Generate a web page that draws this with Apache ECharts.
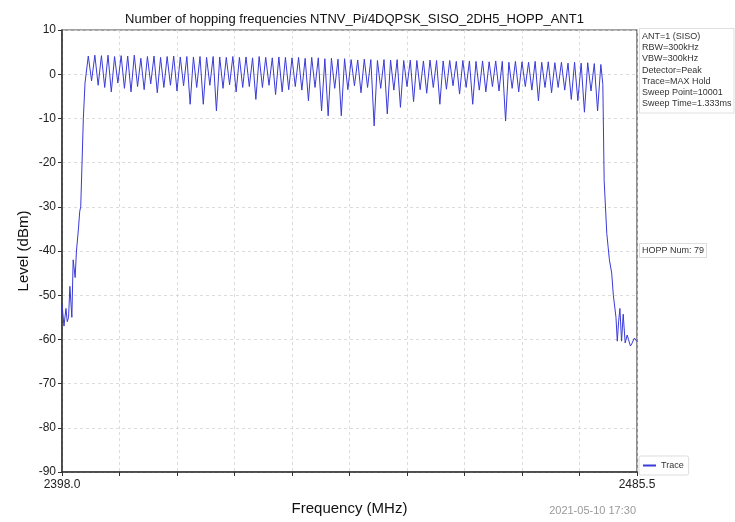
<!DOCTYPE html>
<html>
<head>
<meta charset="utf-8">
<script src="https://cdn.jsdelivr.net/npm/echarts@6/dist/echarts.min.js"></script>
<style>
html,body{margin:0;padding:0;background:#fff;}
#chart{width:735px;height:522px;}
</style>
</head>
<body>
<div id="chart"></div>
<script>
// ---- data ----
const titleText = 'Number of hopping frequencies NTNV_Pi/4DQPSK_SISO_2DH5_HOPP_ANT1';
const xTickLabels = ['2398.0', '2485.5'];
const yTicks = [10, 0, -10, -20, -30, -40, -50, -60, -70, -80, -90];

// Bluetooth hopping channels (MHz)
const channelFreq = [2402,2403,2404,2405,2406,2407,2408,2409,2410,2411,2412,2413,2414,2415,2416,2417,2418,2419,2420,2421,
  2422,2423,2424,2425,2426,2427,2428,2429,2430,2431,2432,2433,2434,2435,2436,2437,2438,2439,2440,2441,
  2442,2443,2444,2445,2446,2447,2448,2449,2450,2451,2452,2453,2454,2455,2456,2457,2458,2459,2460,2461,
  2462,2463,2464,2465,2466,2467,2468,2469,2470,2471,2472,2473,2474,2475,2476,2477,2478,2479,2480];
// peak level of each channel (dBm)
const peakLevel = [4.1,4.3,4.2,4.3,4.0,4.2,4.1,4.3,3.6,4.0,
  4.1,3.8,4.0,4.1,3.9,4.0,3.9,4.0,3.8,4.0,
  3.9,3.8,4.0,3.8,3.9,3.7,4.0,3.8,3.7,3.9,
  3.8,3.7,3.8,3.6,3.8,3.7,3.5,3.6,3.4,3.5,
  3.3,3.2,3.4,3.3,3.1,3.3,3.2,3.3,3.1,3.2,
  3.1,3.0,3.2,3.1,3.0,3.1,2.9,3.1,3.0,2.9,
  3.0,2.8,3.0,2.9,2.7,2.9,2.8,2.7,2.9,2.7,
  2.8,2.6,2.7,2.5,2.7,2.5,2.6,2.4,2.2];
// minimum level between neighbouring channels (dBm)
const dipLevel = [-1.5,-2.5,-3.0,-4.0,-2.0,-3.2,-4.0,-2.8,-3.5,-2.2,
  -4.2,-3.0,-2.5,-3.8,-2.6,-6.8,-3.0,-6.8,-2.5,-8.3,
  -3.2,-2.4,-4.0,-3.0,-2.8,-5.7,-3.0,-2.5,-4.6,-4.0,
  -3.5,-2.8,-3.6,-6.0,-3.0,-8.3,-9.4,-3.2,-9.4,-3.5,
  -2.6,-4.2,-3.0,-11.7,-3.2,-9.0,-3.6,-7.5,-2.8,-6.2,
  -3.5,-4.3,-3.0,-6.8,-3.4,-2.6,-4.5,-3.0,-6.8,-3.6,
  -4.0,-2.8,-3.8,-10.6,-3.2,-4.0,-2.8,-3.6,-6.0,-3.0,
  -4.2,-3.0,-3.6,-5.7,-6.0,-8.6,-3.8,-8.3];
// lower band edge
const leftEdgeFreq  = [2398.0,2398.3,2398.6,2398.8,2399.0,2399.2,2399.5,2399.7,2400.0,2400.2,2400.5,2400.7,2400.85,2401.25,2401.5];
const leftEdgeLevel = [-52,-57,-53,-56,-55,-48,-55,-42,-46,-40,-35,-31,-30,-10,-2];
// upper band edge
const rightEdgeFreq  = [2480.3,2480.5,2480.9,2481.1,2481.3,2481.65,2481.9,2482.3,2482.5,2482.7,2482.9,2483.15,2483.4,2483.7,2484.0,2484.2,2484.5,2484.7,2485.1,2485.5];
const rightEdgeLevel = [-2.3,-24,-36,-39,-42,-45,-50,-55,-60.4,-56,-53,-60.4,-54.3,-60.8,-59,-60,-61.5,-61,-59.7,-60.5];

const infoLines = ['ANT=1 (SISO)','RBW=300kHz','VBW=300kHz','Detector=Peak','Trace=MAX Hold','Sweep Point=10001','Sweep Time=1.333ms'];
const hoppText = 'HOPP Num: 79';
const dateText = '2021-05-10 17:30';

// ---- build trace ----
const trace = [];
leftEdgeFreq.forEach((f, i) => trace.push([f, leftEdgeLevel[i]]));
channelFreq.forEach((f, i) => {
  trace.push([f, peakLevel[i]]);
  if (i < dipLevel.length) trace.push([(f + channelFreq[i + 1]) / 2, dipLevel[i]]);
});
rightEdgeFreq.forEach((f, i) => trace.push([f, rightEdgeLevel[i]]));

const FONT = 'Liberation Sans, Arial, sans-serif';
const chart = echarts.init(document.getElementById('chart'));
chart.setOption({
  animation: false,
  backgroundColor: '#ffffff',
  title: {
    text: titleText, left: 349.5, textAlign: 'center', top: 8,
    textStyle: {fontSize: 13, fontWeight: 'normal', color: '#111', fontFamily: FONT}
  },
  grid: {left: 62, right: 98, top: 30, bottom: 50, show: true, borderColor: '#444', borderWidth: 1.2, backgroundColor: '#fff'},
  legend: {
    left: 639, top: 456, orient: 'vertical',
    data: ['Trace'], icon: 'rect', itemWidth: 13, itemHeight: 2, itemGap: 4,
    padding: [5, 5, 5, 4], borderColor: '#ddd', borderWidth: 1, borderRadius: 2,
    textStyle: {fontSize: 9, color: '#333', fontFamily: FONT}
  },
  xAxis: [
    {
      type: 'value', min: 0, max: 10, interval: 1,
      name: 'Frequency (MHz)', nameLocation: 'middle', nameGap: 29,
      nameTextStyle: {fontSize: 15, color: '#111', fontFamily: FONT},
      axisLine: {show: true, onZero: false, lineStyle: {color: '#333', width: 1.5}},
      axisTick: {show: true, length: 4, lineStyle: {color: '#333'}},
      axisLabel: {
        margin: 7, fontSize: 12, color: '#222', fontFamily: FONT,
        showMinLabel: true, showMaxLabel: true,
        formatter: v => v === 0 ? xTickLabels[0] : (v === 10 ? xTickLabels[1] : '')
      },
      splitLine: {show: true, lineStyle: {color: '#d4d4d4', type: [3, 3], width: 0.8}}
    },
    {
      type: 'value', min: 2398, max: 2485.5, show: false,
      axisLine: {show: false, onZero: false}, axisTick: {show: false}, axisLabel: {show: false}, splitLine: {show: false}
    }
  ],
  yAxis: {
    type: 'value', min: yTicks[yTicks.length - 1], max: yTicks[0], interval: 10,
    name: 'Level (dBm)', nameLocation: 'middle', nameGap: 31, nameMoveOverlap: false,
    nameTextStyle: {fontSize: 15, color: '#111', fontFamily: FONT},
    axisLine: {show: true, onZero: false, lineStyle: {color: '#333', width: 1.5}},
    axisTick: {show: true, length: 4, lineStyle: {color: '#333'}},
    axisLabel: {margin: 6, fontSize: 12, color: '#222', fontFamily: FONT},
    splitLine: {show: true, lineStyle: {color: '#d4d4d4', type: [3, 3], width: 0.8}}
  },
  series: [{
    name: 'Trace', type: 'line', xAxisIndex: 1, data: trace,
    showSymbol: false, symbol: 'none',
    lineStyle: {color: '#3a3ad8', width: 1},
    itemStyle: {color: '#3a3ad8'}
  }],
  graphic: [
    {
      type: 'text', left: 639, top: 28,
      style: {
        text: infoLines.join('\n'), fontSize: 9, lineHeight: 11.2, fill: '#333', fontFamily: FONT,
        backgroundColor: '#fff', borderColor: '#e0e0e0', borderWidth: 1, padding: [2, 2, 3, 2]
      }
    },
    {
      type: 'text', left: 639, top: 243,
      style: {
        text: hoppText, fontSize: 9, lineHeight: 11, fill: '#333', fontFamily: FONT,
        backgroundColor: '#fff', borderColor: '#ddd', borderWidth: 1, padding: [1, 2, 1, 2]
      }
    },
    {
      type: 'text', right: 99, top: 505,
      style: {text: dateText, fontSize: 11, fill: '#9a9a9a', fontFamily: FONT}
    }
  ]
});
</script>
</body>
</html>
